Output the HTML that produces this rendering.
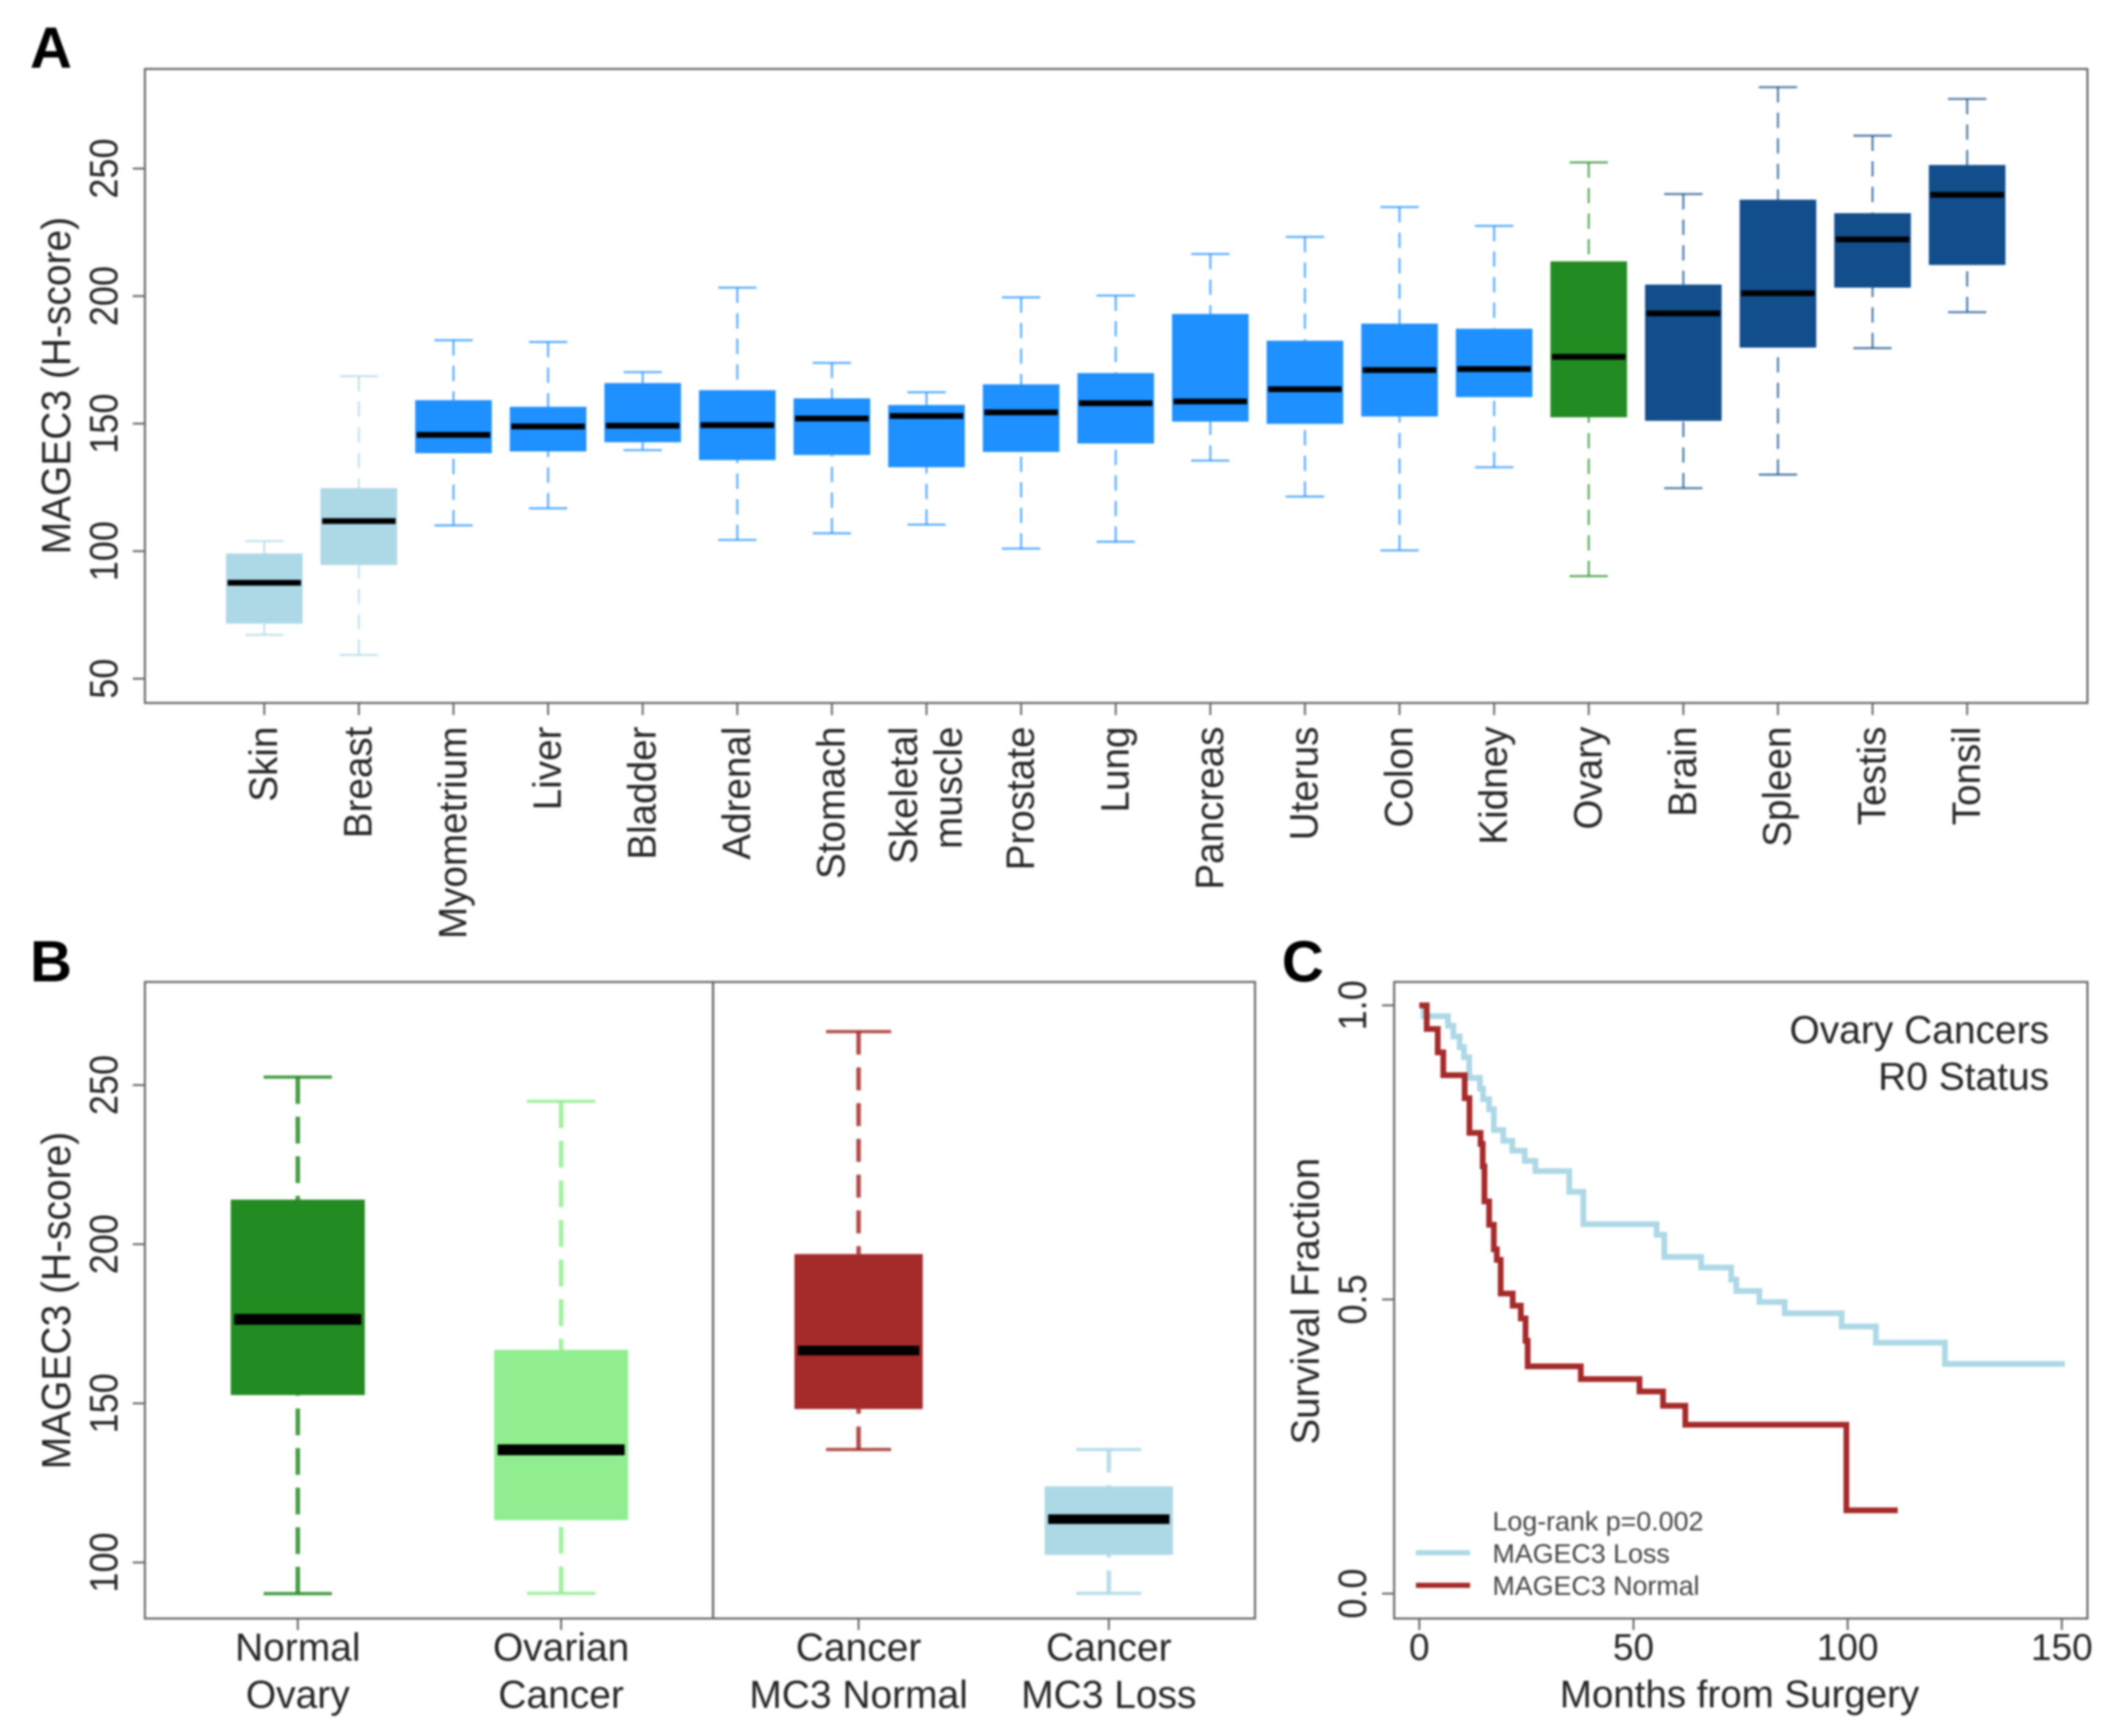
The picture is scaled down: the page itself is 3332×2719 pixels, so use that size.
<!DOCTYPE html>
<html lang="en">
<head>
<meta charset="utf-8">
<title>MAGEC3 H-score and survival</title>
<style>
html,body{margin:0;padding:0;background:#fff;}
svg{display:block;filter:blur(1.5px);}
text{font-family:"Liberation Sans",Arial,sans-serif;fill:#262626;}
.letter{font-weight:700;font-size:91px;fill:#000;}
</style>
</head>
<body>
<svg id="figure" xmlns="http://www.w3.org/2000/svg" width="3332" height="2719" viewBox="0 0 3332 2719">
  <rect x="0" y="0" width="3332" height="2719" fill="#fff"/>
  <text class="letter" x="47" y="106">A</text>
  <text class="letter" x="47" y="1537">B</text>
  <text class="letter" x="2008" y="1537">C</text>
  <g id="panelA"></g>
  <g id="panelB"></g>
  <g id="panelC"></g>
</svg>
<script>
// ---- Panel A data ----
const tissueCategories = ['Skin','Breast','Myometrium','Liver','Bladder','Adrenal','Stomach','Skeletal\nmuscle','Prostate','Lung','Pancreas','Uterus','Colon','Kidney','Ovary','Brain','Spleen','Testis','Tonsil'];
const tissueWhiskerHigh = [103.9,168.6,182.7,182,170.2,203.3,173.8,162.3,199.5,200.2,216.5,223.2,234.9,227.5,252.4,240,281.9,262.9,277.3];
const tissueQ3 = [99.1,124.7,159.2,156.6,165.9,163.1,159.9,157.3,165.4,169.8,193,182.5,189.2,187.2,213.6,204.5,237.8,232.5,251.4];
const tissueMedian = [87.6,111.8,145.6,148.9,149.2,149.4,152,153,154.4,158,158.7,163.5,171,171.4,176.2,193.2,201.1,222.2,239.7];
const tissueQ1 = [71.6,94.6,138.4,139.1,142.7,135.7,137.7,132.9,138.9,142.2,150.8,149.9,152.8,160.4,152.5,151.1,179.8,203.3,212.2];
const tissueWhiskerLow = [67.2,59.3,110.1,116.8,139.6,104.4,107,110.4,101,103.7,135.5,121.4,100.3,132.9,90.2,124.7,130,179.6,193.7];
const tissueColors = ['#add8e6','#add8e6','#1e90ff','#1e90ff','#1e90ff','#1e90ff','#1e90ff','#1e90ff','#1e90ff','#1e90ff','#1e90ff','#1e90ff','#1e90ff','#1e90ff','#228b22','#114e8b','#114e8b','#114e8b','#114e8b'];
const tissueYTicks = [50,100,150,200,250];

// ---- Panel B data ----
const ovaryCategories = [['Normal','Ovary'],['Ovarian','Cancer']];
const ovaryWhiskerHigh = [252.5,244.9];
const ovaryQ3 = [214,166.8];
const ovaryMedian = [176.4,135.4];
const ovaryQ1 = [152.6,113.3];
const ovaryWhiskerLow = [90.2,90.3];
const ovaryColors = ['#228b22','#90ee90'];
const mc3Categories = [['Cancer','MC3 Normal'],['Cancer','MC3 Loss']];
const mc3WhiskerHigh = [266.8,135.5];
const mc3Q3 = [196.9,123.9];
const mc3Median = [166.6,113.6];
const mc3Q1 = [148.2,102.4];
const mc3WhiskerLow = [135.5,90.3];
const mc3Colors = ['#a52a2a','#add8e6'];
const ovaryYTicks = [100,150,200,250];

// ---- Panel C data ----
const lossMonths = [0,0.98,6.7,7.94,9.43,10.42,11.66,14.15,14.89,16.3,17.4,19.6,21.7,24.6,27.1,35,38.3,55.4,57.2,65.8,72.8,74,79.4,85.3,98.6,106.6,122.7];
const lossSurvival = [1,.9815,.9652,.9471,.929,.9117,.8766,.8585,.8404,.8234,.7879,.7698,.7529,.7355,.7182,.683,.628,.61,.5723,.5543,.5338,.5144,.4957,.4766,.454,.4267,.3905];
const lossLastMonth = 150.7;
const normalMonths = [0,1.73,4.3,5.6,10.6,11.7,14.3,14.8,15.2,16.3,17.4,18.1,19,21.8,23.7,24.8,25.3,37.7,51.4,56.9,62.1,99.7];
const normalSurvival = [1,.9598,.92,.8812,.8422,.7832,.7644,.7264,.6667,.627,.5853,.5673,.5101,.4895,.4678,.4298,.3864,.3647,.3437,.3194,.287,.1416];
const normalLastMonth = 111.7;
const survivalXTicks = [0,50,100,150];
const survivalYTicks = ['0.0','0.5','1.0'];
const legendLabels = ['Log-rank p=0.002','MAGEC3 Loss','MAGEC3 Normal'];

// ---- helpers ----
const NS = 'http://www.w3.org/2000/svg';
const AXIS = '#666';
function make(parent, tag, attrs, content) {
  const el = document.createElementNS(NS, tag);
  for (const k in attrs) el.setAttribute(k, attrs[k]);
  if (content !== undefined) el.textContent = content;
  parent.appendChild(el);
  return el;
}
function rotatedText(parent, x, y, size, anchor, str, stretch) {
  const s = stretch || 1;
  return make(parent, 'text', {transform:'translate(' + x + ',' + y + ') rotate(-90) scale(1,' + s + ')', 'font-size':size, 'text-anchor':anchor}, str);
}
function drawFrame(parent, left, top, right, bottom, name) {
  const el = make(parent, 'rect', {x:left, y:top, width:right-left, height:bottom-top, fill:'none', stroke:AXIS, 'stroke-width':3.2});
  
  
  return el;
}
function drawBox(parent, cx, yScale, hi, q3, med, q1, lo, color, g, name) {
  const group = make(parent, 'g', {});
  
  
  const upper = make(group, 'line', {x1:cx, x2:cx, y1:yScale(hi), y2:yScale(q3), stroke:color, 'stroke-width':g.whisker, 'stroke-dasharray':g.dash, 'stroke-opacity':g.fade});
  
  
  const lower = make(group, 'line', {x1:cx, x2:cx, y1:yScale(lo), y2:yScale(q1), stroke:color, 'stroke-width':g.whisker, 'stroke-dasharray':g.dash, 'stroke-opacity':g.fade});
  
  
  const capHi = make(group, 'line', {x1:cx-g.cap/2, x2:cx+g.cap/2, y1:yScale(hi), y2:yScale(hi), stroke:color, 'stroke-width':g.capStroke, 'stroke-opacity':g.fade});
  
  
  const capLo = make(group, 'line', {x1:cx-g.cap/2, x2:cx+g.cap/2, y1:yScale(lo), y2:yScale(lo), stroke:color, 'stroke-width':g.capStroke, 'stroke-opacity':g.fade});
  
  
  const rect = make(group, 'rect', {x:cx-g.box/2, y:yScale(q3), width:g.box, height:yScale(q1)-yScale(q3), fill:color});
  
  
  const m = make(group, 'line', {x1:cx-g.med/2, x2:cx+g.med/2, y1:yScale(med), y2:yScale(med), stroke:'#000', 'stroke-width':g.medStroke});
  
  
}

// ---- Panel A ----
(function () {
  const panel = document.getElementById('panelA');
  const L = 227, T = 108, R = 3270, B = 1101;
  const x = i => 414 + 148.2 * i;
  const y = v => 1063 - (v - 50) * 3.995;
  const geom = {box:120, cap:60, med:115, whisker:3.2, capStroke:3.2, medStroke:9, dash:'24 16', fade:0.75};
  tissueCategories.forEach((cat, i) => {
    const name = cat.replace('\n', '-').toLowerCase();
    drawBox(panel, x(i), y, tissueWhiskerHigh[i], tissueQ3[i], tissueMedian[i], tissueQ1[i], tissueWhiskerLow[i], tissueColors[i], geom, name);
    const tick = make(panel, 'line', {x1:x(i), x2:x(i), y1:B, y2:B+19, stroke:AXIS, 'stroke-width':3});
    
    
    const lines = cat.split('\n');
    lines.forEach((ln, j) => {
      const t = rotatedText(panel, x(i) + 20 + (j - (lines.length - 1) / 2) * 70, 1138, 60.5, 'end', ln, 1.03);
      
      
    });
  });
  tissueYTicks.forEach(v => {
    const tick = make(panel, 'line', {x1:L-19, x2:L, y1:y(v), y2:y(v), stroke:AXIS, 'stroke-width':3});
    
    
    const t = rotatedText(panel, 184, y(v), 56.5, 'middle', String(v), 1.1);
    
    
  });
  const title = rotatedText(panel, 110, 604, 61, 'middle', 'MAGEC3 (H-score)', 1.05);
  
  
  drawFrame(panel, L, T, R, B, 'plot-frame');
})();

// ---- Panel B ----
(function () {
  const panel = document.getElementById('panelB');
  const L = 227, T = 1538, R = 1966, B = 2535, DIV = 1117;
  const y = v => 2447.2 - (v - 100) * 4.985;
  const xOvary = i => 466.5 + 412.5 * i;
  const xMc3 = i => 1345 + 392 * i;
  const geomL = {box:210, cap:107, med:199, whisker:7, capStroke:5, medStroke:17, dash:'42 20', fade:0.85};
  const geomR = {box:201, cap:102, med:190, whisker:7, capStroke:5, medStroke:15, dash:'36 20', fade:0.85};
  function drawGroup(cats, xf, hi, q3, med, q1, lo, colors, geom) {
    cats.forEach((lines, i) => {
      const name = lines.join('-').replace(/ /g, '-').toLowerCase();
      drawBox(panel, xf(i), y, hi[i], q3[i], med[i], q1[i], lo[i], colors[i], geom, name);
      const tick = make(panel, 'line', {x1:xf(i), x2:xf(i), y1:B, y2:B+18, stroke:AXIS, 'stroke-width':3});
      
      
      lines.forEach((ln, j) => {
        const t = make(panel, 'text', {x:xf(i), y:2601 + j * 74, 'font-size':61, 'text-anchor':'middle'}, ln);
        
        
      });
    });
  }
  drawGroup(ovaryCategories, xOvary, ovaryWhiskerHigh, ovaryQ3, ovaryMedian, ovaryQ1, ovaryWhiskerLow, ovaryColors, geomL);
  drawGroup(mc3Categories, xMc3, mc3WhiskerHigh, mc3Q3, mc3Median, mc3Q1, mc3WhiskerLow, mc3Colors, geomR);
  ovaryYTicks.forEach(v => {
    const tick = make(panel, 'line', {x1:L-19, x2:L, y1:y(v), y2:y(v), stroke:AXIS, 'stroke-width':3});
    
    
    const t = rotatedText(panel, 184, y(v), 56.5, 'middle', String(v), 1.1);
    
    
  });
  const title = rotatedText(panel, 110, 2037, 61, 'middle', 'MAGEC3 (H-score)', 1.05);
  
  
  const divider = make(panel, 'line', {x1:DIV, x2:DIV, y1:T, y2:B, stroke:AXIS, 'stroke-width':3.5});
  
  
  drawFrame(panel, L, T, R, B, 'plot-frame');
})();

// ---- Panel C ----
(function () {
  const panel = document.getElementById('panelC');
  const L = 2184, T = 1538, R = 3270, B = 2535;
  const x = t => 2223.4 + 6.71 * t;
  const y = s => 2496 - 921.4 * s;
  function stepPath(months, surv, last) {
    let d = 'M' + x(months[0]) + ' ' + y(surv[0]);
    for (let i = 1; i < months.length; i++) {
      d += ' H' + x(months[i]) + ' V' + y(surv[i]);
    }
    return d + ' H' + x(last);
  }
  const lossLine = make(panel, 'path', {d:stepPath(lossMonths, lossSurvival, lossLastMonth), fill:'none', stroke:'#add8e6', 'stroke-width':9});
  
  
  const normalLine = make(panel, 'path', {d:stepPath(normalMonths, normalSurvival, normalLastMonth), fill:'none', stroke:'#a52a2a', 'stroke-width':9});
  
  
  survivalXTicks.forEach(v => {
    const tick = make(panel, 'line', {x1:x(v), x2:x(v), y1:B, y2:B+18, stroke:AXIS, 'stroke-width':3});
    
    
    const t = make(panel, 'text', {x:x(v), y:2600, 'font-size':58, 'text-anchor':'middle'}, String(v));
    
    
  });
  survivalYTicks.forEach(v => {
    const tick = make(panel, 'line', {x1:L-19, x2:L, y1:y(+v), y2:y(+v), stroke:AXIS, 'stroke-width':3});
    
    
    const t = rotatedText(panel, 2140, y(+v), 56.5, 'middle', v, 1.1);
    
    
  });
  const yTitle = rotatedText(panel, 2066, 2038, 60.3, 'middle', 'Survival Fraction', 1.03);
  
  
  const xTitle = make(panel, 'text', {x:2725, y:2674, 'font-size':60.3, 'text-anchor':'middle'}, 'Months from Surgery');
  
  
  const title1 = make(panel, 'text', {x:3210, y:1634, 'font-size':61, 'text-anchor':'end'}, 'Ovary Cancers');
  
  
  const title2 = make(panel, 'text', {x:3210, y:1707, 'font-size':61, 'text-anchor':'end'}, 'R0 Status');
  
  
  legendLabels.forEach((label, i) => {
    const t = make(panel, 'text', {x:2338, y:2397 + i * 50.5, 'font-size':42, style:'fill:#444'}, label);
    
    
  });
  const key1 = make(panel, 'line', {x1:2218, x2:2303, y1:2432, y2:2432, stroke:'#add8e6', 'stroke-width':8});
  
  
  const key2 = make(panel, 'line', {x1:2218, x2:2303, y1:2483, y2:2483, stroke:'#a52a2a', 'stroke-width':8});
  
  
  drawFrame(panel, L, T, R, B, 'plot-frame');
})();
</script>
</body>
</html>
